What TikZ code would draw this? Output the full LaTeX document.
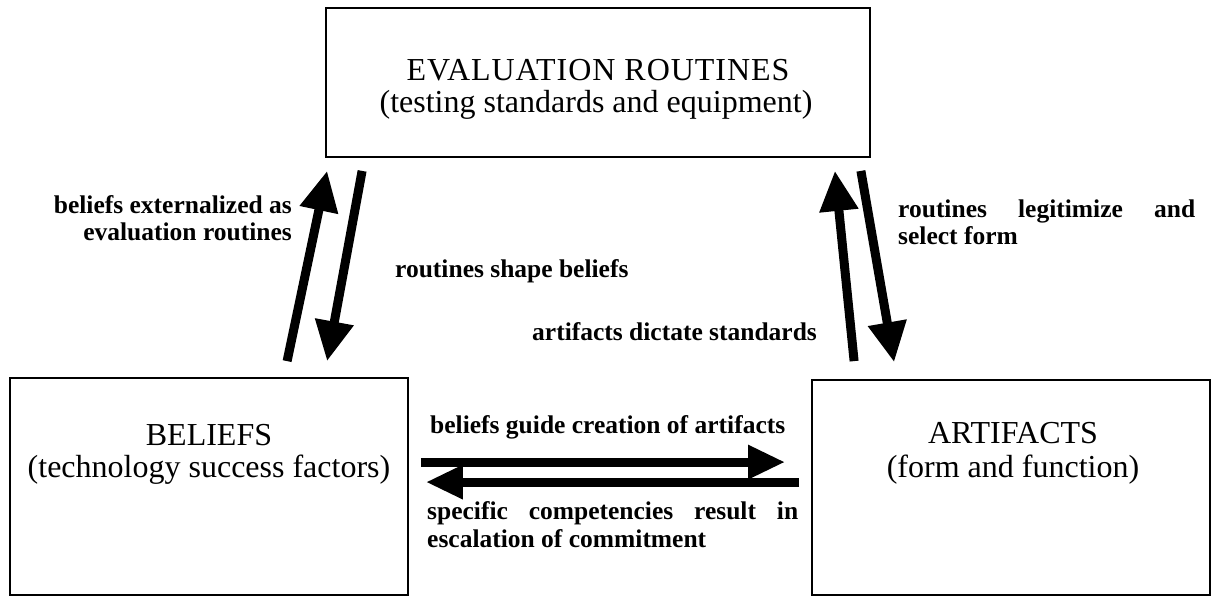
\documentclass[tikz,border=0pt]{standalone}
\usepackage{fontspec}
\setmainfont{Liberation Serif}
\usetikzlibrary{arrows.meta,calc}
\begin{document}
\begin{tikzpicture}[x=1pt,y=-1pt,
  box/.style={draw, line width=1.8pt, inner sep=0pt},
  boxtext/.style={font=\fontsize{32}{34}\selectfont, inner sep=0pt, anchor=base},
  lbl/.style={font=\fontsize{25.5}{27}\selectfont\bfseries, inner sep=0pt},
  flow/.style={line width=9pt, -{Triangle[length=40pt,width=37pt]}},
  sideflow/.style={line width=9pt, -{Triangle[length=37pt,width=32pt]}}
]
\useasboundingbox (0,0) rectangle (1212,597);

% the three boxes
\node[box, minimum width=544pt, minimum height=149pt] (eval) at (598,82.5) {};
\node[box, minimum width=398pt, minimum height=217pt] (beliefs) at (209,486.5) {};
\node[box, minimum width=398pt, minimum height=215pt] (artifacts) at (1011,487.5) {};

% box captions
\node[boxtext] (evalA) at (598,80) {\addfontfeature{LetterSpace=3}EVALUATION ROUTINES};
\node[boxtext] (evalB) at (596,112) {(testing standards and equipment)};
\node[boxtext] (belA) at (209,445) {BELIEFS};
\node[boxtext] (belB) at (209,477) {(technology success factors)};
\node[boxtext] (artA) at (1013,443) {ARTIFACTS};
\node[boxtext] (artB) at (1013,477) {(form and function)};

% flows between beliefs and evaluation routines
\draw[flow] ($(beliefs.north west)+(278,-16)$) -- ($(eval.south west)+(2,13)$);
\draw[flow] ($(eval.south west)+(37,13)$) -- ($(beliefs.north west)+(318,-16)$);
% flows between artifacts and evaluation routines
\draw[flow] ($(artifacts.north west)+(43,-18)$) -- ($(eval.south east)+(-36,13)$);
\draw[flow] ($(eval.south east)+(-10,13)$) -- ($(artifacts.north west)+(83,-17)$);
% flows between beliefs and artifacts
\draw[sideflow] ($(beliefs.north east)+(12,85)$) -- ($(artifacts.north west)+(-26,83)$);
\draw[sideflow] ($(artifacts.north west)+(-12,103)$) -- ($(beliefs.north east)+(17,105)$);

% flow labels
\node[lbl, anchor=base east] (l1a) at (292,213) {beliefs externalized as};
\node[lbl, anchor=base east] (l1b) at (292,240) {evaluation routines};
\node[lbl, anchor=base west] (l2) at (395,277) {routines shape beliefs};
\node[lbl, anchor=base west] (l3) at (532,340) {artifacts dictate standards};
\node[lbl, anchor=base west] (l4a) at (898,217) {\makebox[297pt][s]{routines legitimize and}};
\node[lbl, anchor=base west] (l4b) at (898,244) {select form};
\node[lbl, anchor=base west] (l5) at (430,433) {beliefs guide creation of artifacts};
\node[lbl, anchor=base west] (l6a) at (427,519) {\makebox[371pt][s]{specific competencies result in}};
\node[lbl, anchor=base west] (l6b) at (427,547) {escalation of commitment};
\end{tikzpicture}
\end{document}
